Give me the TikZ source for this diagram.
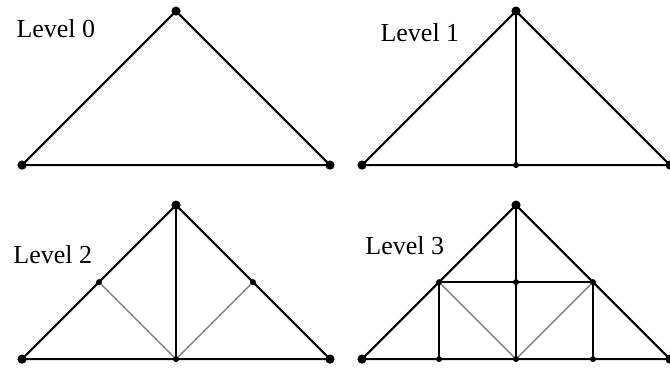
\documentclass[tikz,border=0pt]{standalone}
\usepackage{fontspec}
\setmainfont{Liberation Serif}
\usetikzlibrary{calc}

\begin{document}
\begin{tikzpicture}[x=2cm,y=2cm,
    edge/.style={line width=0.8pt},
    thinedge/.style={line width=0.5pt,gray},
    lbl/.style={anchor=base west,inner sep=0pt,font=\fontsize{9.6}{11}\selectfont}]
  \def\rb{1.7pt}
  \def\rs{1.1pt}
  \useasboundingbox (0,0) rectangle (4.351,2.39);

  % level 0
  \begin{scope}[shift={(0.143,1.318)}]
    \coordinate (a0) at (0,0);
    \coordinate (b0) at (2,0);
    \coordinate (c0) at (1,1);
    \draw[edge] (a0) -- (c0) -- (b0) -- cycle;
    \foreach \p in {a0,b0,c0} \fill (\p) circle (\rb);
    \node[lbl] (lev0) at (-0.039,0.831) {Level 0};
  \end{scope}

  % level 1
  \begin{scope}[shift={(2.351,1.318)}]
    \coordinate (a1) at (0,0);
    \coordinate (b1) at (2,0);
    \coordinate (c1) at (1,1);
    \coordinate (m1) at (1,0);
    \draw[edge] (a1) -- (c1) -- (b1) -- cycle;
    \draw[edge] (c1) -- (m1);
    \foreach \p in {a1,b1,c1} \fill (\p) circle (\rb);
    \fill (m1) circle (\rs);
    \node[lbl] (lev1) at (0.117,0.805) {Level 1};
  \end{scope}

  % level 2
  \begin{scope}[shift={(0.143,0.058)}]
    \coordinate (a2) at (0,0);
    \coordinate (b2) at (2,0);
    \coordinate (c2) at (1,1);
    \coordinate (m2) at (1,0);
    \coordinate (l2) at (0.5,0.5);
    \coordinate (r2) at (1.5,0.5);
    \draw[edge] (a2) -- (c2) -- (b2) -- cycle;
    \draw[edge] (c2) -- (m2);
    \draw[thinedge] (l2) -- (m2) -- (r2);
    \foreach \p in {a2,b2,c2} \fill (\p) circle (\rb);
    \foreach \p in {m2,l2,r2} \fill (\p) circle (\rs);
    \node[lbl] (lev2) at (-0.059,0.624) {Level 2};
  \end{scope}

  % level 3
  \begin{scope}[shift={(2.351,0.058)}]
    \coordinate (a3) at (0,0);
    \coordinate (b3) at (2,0);
    \coordinate (c3) at (1,1);
    \coordinate (m3) at (1,0);
    \coordinate (l3) at (0.5,0.5);
    \coordinate (r3) at (1.5,0.5);
    \coordinate (k3) at (1,0.5);
    \coordinate (p3) at (0.5,0);
    \coordinate (q3) at (1.5,0);
    \draw[edge] (a3) -- (c3) -- (b3) -- cycle;
    \draw[edge] (c3) -- (m3);
    \draw[edge] (l3) -- (r3);
    \draw[edge] (l3) -- (p3);
    \draw[edge] (r3) -- (q3);
    \draw[thinedge] (l3) -- (m3) -- (r3);
    \foreach \p in {a3,b3,c3} \fill (\p) circle (\rb);
    \foreach \p in {m3,l3,r3,k3,p3,q3} \fill (\p) circle (\rs);
    \node[lbl] (lev3) at (0.019,0.682) {Level 3};
  \end{scope}
\end{tikzpicture}
\end{document}
